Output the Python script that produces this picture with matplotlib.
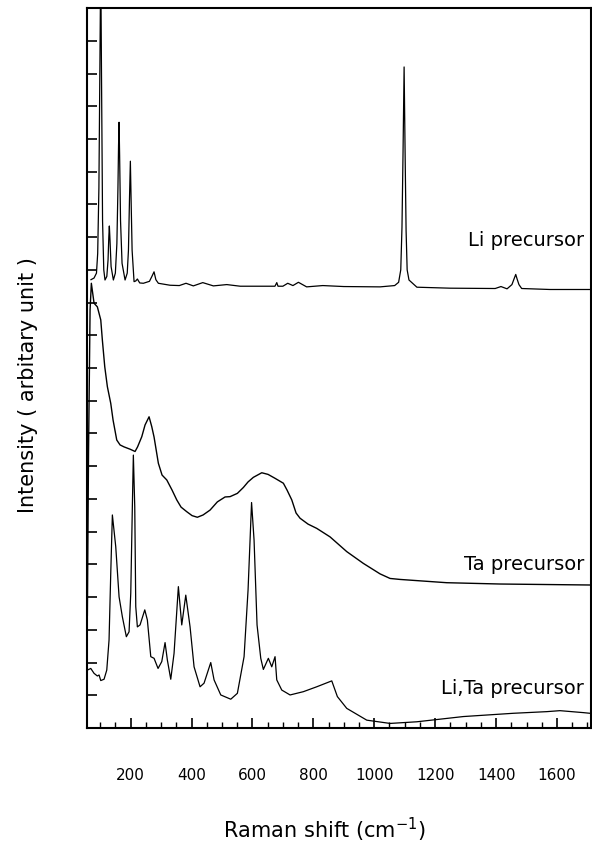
import numpy as np
import matplotlib
matplotlib.use("Agg")
import matplotlib.pyplot as plt
from matplotlib.ticker import MultipleLocator, NullFormatter

# Spectres (nombre d'onde en cm-1, intensité en unités arbitraires)
li_wn = [70, 80, 88, 92, 96, 99.5, 102, 104.5, 108, 112, 116,
         122, 126, 128.5, 130.3, 132.5, 136, 143.5,
         150, 155, 158.5, 160.5, 162.2, 164, 167, 172, 181.9,
         189, 193, 196.5, 199.3, 202, 205, 211.4,
         217, 222.3, 230, 242, 262, 270, 277, 283, 291.2, 329.6, 360, 382, 406,
         437, 471.8, 515.8, 560, 625, 674, 680, 684, 700, 716, 733, 751, 778,
         831, 900, 1019, 1067, 1080, 1087, 1091, 1094.5, 1098, 1101.5, 1104.5,
         1108, 1114, 1140, 1249, 1397, 1416, 1436, 1452, 1460, 1464.5, 1469,
         1475, 1484, 1577, 1708]
li_int = [13.7, 13.75, 13.9, 14.5, 16.5, 20.5, 23.5, 20, 15.5, 14.0, 13.69,
          13.8, 14.3, 15.0, 15.34, 14.9, 14.1, 13.69,
          13.9, 14.8, 16.5, 17.8, 18.51, 17.5, 15.5, 14.2, 13.69,
          13.9, 14.6, 16.2, 17.32, 16.0, 14.6, 13.64,
          13.66, 13.72, 13.6, 13.59, 13.65, 13.8, 13.94, 13.7, 13.59, 13.53, 13.52, 13.59, 13.51,
          13.61, 13.51, 13.55, 13.5, 13.5, 13.5, 13.61, 13.5, 13.5, 13.59, 13.52, 13.62, 13.48,
          13.52, 13.49, 13.48, 13.52, 13.62, 14.0, 15.3, 17.6, 20.2, 17.4, 15.2,
          14.0, 13.69, 13.47, 13.44, 13.43, 13.49, 13.42, 13.55, 13.75, 13.86, 13.72,
          13.55, 13.43, 13.40, 13.40]

ta_wn = [58.1, 62, 67, 71.2, 80.1, 90.9, 102.1, 107.4, 115.2, 123.8, 134.9, 142.5,
         154.6, 165.5, 178.6, 198.3, 214.7, 222.9, 236.7, 247.5, 260.7, 269.5, 277.1,
         291.2, 303.3, 318.8, 336.2, 351.6, 365.7, 384.4, 401.8, 419.2, 438, 461,
         484.9, 510.2, 526.6, 550.6, 570.3, 585.7, 603.1, 630.7, 651.3, 674.3, 701.6,
         713.7, 729.2, 743.3, 756.4, 782.7, 811.2, 854.9, 909.7, 964.2, 1019, 1051.9,
         1084.7, 1238, 1413, 1708]
ta_int = [3.45, 8.49, 12.77, 13.59, 12.98, 12.87, 12.47, 11.85, 11.04, 10.43, 9.92, 9.41,
          8.80, 8.65, 8.59, 8.52, 8.45, 8.59, 8.90, 9.26, 9.51, 9.21, 8.89,
          8.09, 7.73, 7.58, 7.27, 6.97, 6.75, 6.61, 6.49, 6.44, 6.51, 6.66,
          6.91, 7.06, 7.07, 7.17, 7.35, 7.52, 7.66, 7.80, 7.75, 7.63, 7.48,
          7.27, 6.97, 6.57, 6.41, 6.23, 6.10, 5.84, 5.39, 5.03, 4.71, 4.57,
          4.54, 4.44, 4.40, 4.37]

lita_wn = [58.1, 69.3, 80.1, 90.9, 96.5, 102.1, 112.9, 121.8, 129.3, 134.9, 140.2,
           151.3, 162.2, 173.0, 186.1, 195.0, 200.6, 205.8, 209.1, 213.7, 217.0,
           222.3, 231.1, 246.6, 255.1, 266.3, 277.1, 290.2, 302.4, 313.2, 320.7,
           331.9, 342.7, 356.9, 368.0, 381.2, 395.3, 408.4, 428.1, 441.2, 463.2,
           474.1, 496.1, 528.9, 550.6, 572.6, 585.7, 597.2, 605.4, 615.2, 627.4,
           635.9, 652.3, 663.5, 674.3, 679.9, 696.3, 723.6, 767.2, 811.2, 860.5,
           878.9, 909.7, 975.4, 1051.9, 1139.5, 1292.5, 1456.7, 1566.3, 1609.6,
           1686.5, 1708]
lita_int = [1.77, 1.82, 1.67, 1.59, 1.62, 1.45, 1.49, 1.77, 2.69, 4.73, 6.51,
            5.54, 4.01, 3.40, 2.79, 2.94, 4.12, 6.76, 8.34, 6.76, 3.71,
            3.09, 3.15, 3.61, 3.30, 2.18, 2.13, 1.82, 2.03, 2.61, 2.08,
            1.49, 2.28, 4.32, 3.15, 4.06, 3.09, 1.87, 1.26, 1.37, 2.00,
            1.47, 1.01, 0.88, 1.06, 2.18, 4.22, 6.89, 5.74, 3.15, 2.13,
            1.79, 2.13, 1.87, 2.18, 1.47, 1.16, 1.01, 1.11, 1.26, 1.44,
            0.96, 0.60, 0.24, 0.14, 0.19, 0.35, 0.45, 0.50, 0.53,
            0.47, 0.45]

labels = ["Li precursor", "Ta precursor", "Li,Ta precursor"]
label_y = [14.9, 5.0, 1.2]

fig = plt.figure(figsize=(5.92, 8.48), dpi=100)
ax = fig.add_axes([0.147, 0.1415, 0.8505, 0.849])

ax.plot(li_wn, li_int, color='k', lw=0.9)
ax.plot(ta_wn, ta_int, color='k', lw=1.0)
ax.plot(lita_wn, lita_int, color='k', lw=0.9)

for txt, yy in zip(labels, label_y):
    ax.text(1689, yy, txt, ha='right', va='center', fontsize=14)

ax.set_xlim(57, 1710)
ax.set_ylim(0, 22)

ax.xaxis.set_major_locator(MultipleLocator(200))
ax.xaxis.set_minor_locator(MultipleLocator(50))
ax.yaxis.set_major_locator(MultipleLocator(1))
ax.yaxis.set_major_formatter(NullFormatter())
ax.tick_params(axis='x', which='major', direction='in', length=7, width=1.2,
               labelsize=11, pad=29, top=False)
ax.tick_params(axis='x', which='minor', direction='in', length=4, width=1.0, top=False)
ax.tick_params(axis='y', which='major', direction='in', length=7, width=1.2, right=False)
for s in ax.spines.values():
    s.set_linewidth(1.5)

fig.text(325 / 592, 4 / 848, "Raman shift (cm$^{-1}$)", ha='center', va='bottom', fontsize=15)
fig.text(28 / 592, 1 - 385 / 848, "Intensity ( arbitary unit )", ha='center', va='center',
         rotation=90, fontsize=15)

fig.savefig("out.png", dpi=100)
